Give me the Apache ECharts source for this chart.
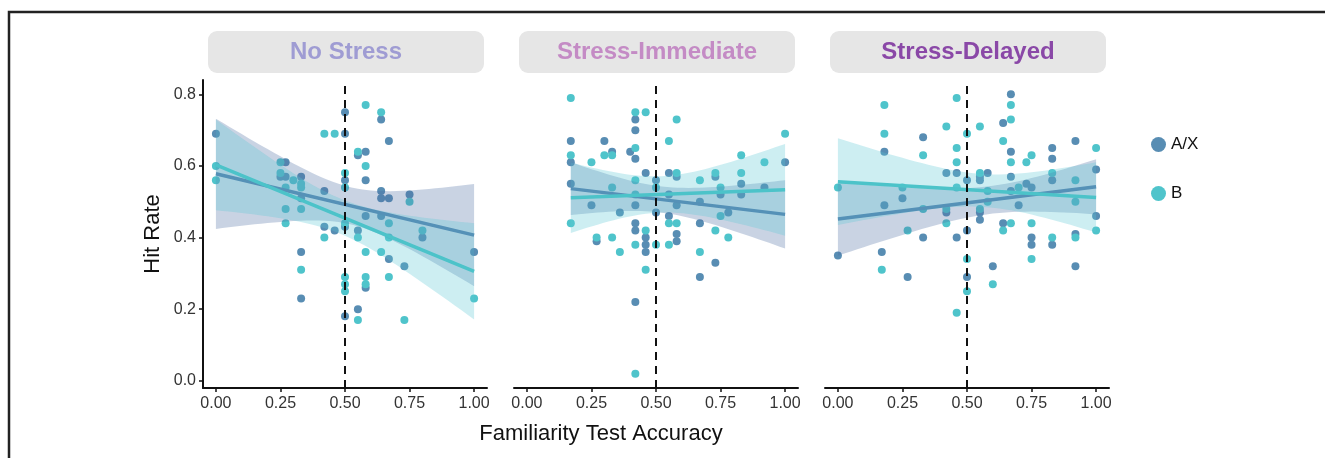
<!DOCTYPE html>
<html>
<head>
<meta charset="utf-8">
<script src="https://cdn.jsdelivr.net/npm/echarts@6/dist/echarts.min.js"></script>
<style>
  html, body { margin: 0; padding: 0; background: #fff; }
  #main { width: 1325px; height: 458px; }
</style>
</head>
<body>
<div id="main"></div>
<script>
// panel titles, ticks
var panelTitles = ['No Stress', 'Stress-Immediate', 'Stress-Delayed'];
var xTicks = [0, 0.25, 0.5, 0.75, 1];
var yTicks = [0, 0.2, 0.4, 0.6, 0.8];
var cutoff = 0.5;

// [familiarity accuracy, hit rate] per group
var noStressAX = [[0,0.69],[0.27,0.61],[0.25,0.57],[0.27,0.57],[0.33,0.57],[0.33,0.51],[0.33,0.36],[0.33,0.23],
  [0.5,0.75],[0.5,0.69],[0.5,0.56],[0.42,0.53],[0.5,0.43],[0.42,0.43],[0.46,0.42],[0.5,0.18],[0.55,0.63],
  [0.58,0.64],[0.58,0.56],[0.55,0.42],[0.58,0.46],[0.58,0.26],[0.55,0.2],[0.64,0.73],[0.67,0.67],[0.64,0.53],
  [0.64,0.51],[0.67,0.51],[0.64,0.46],[0.67,0.34],[0.73,0.32],[0.75,0.52],[0.8,0.4],[1,0.36]];
var noStressB = [[0,0.6],[0,0.56],[0.25,0.61],[0.25,0.58],[0.3,0.56],[0.33,0.55],[0.33,0.54],[0.27,0.54],
  [0.33,0.48],[0.27,0.48],[0.27,0.44],[0.33,0.31],[0.42,0.69],[0.46,0.69],[0.5,0.58],[0.5,0.54],[0.5,0.44],
  [0.42,0.4],[0.5,0.29],[0.5,0.27],[0.5,0.25],[0.55,0.64],[0.58,0.6],[0.58,0.77],[0.55,0.4],[0.58,0.36],
  [0.58,0.29],[0.58,0.27],[0.55,0.17],[0.64,0.75],[0.67,0.44],[0.67,0.4],[0.64,0.36],[0.67,0.29],[0.73,0.17],
  [0.75,0.5],[0.8,0.42],[1,0.23]];

var immediateAX = [[0.17,0.67],[0.17,0.61],[0.17,0.55],[0.25,0.49],[0.3,0.67],[0.33,0.64],[0.27,0.39],[0.36,0.47],
  [0.4,0.64],[0.42,0.73],[0.42,0.7],[0.42,0.62],[0.46,0.58],[0.42,0.49],[0.42,0.44],[0.42,0.42],[0.46,0.4],
  [0.46,0.38],[0.46,0.36],[0.42,0.22],[0.5,0.56],[0.5,0.47],[0.55,0.58],[0.55,0.52],[0.55,0.46],[0.58,0.57],
  [0.58,0.49],[0.58,0.41],[0.58,0.39],[0.67,0.5],[0.67,0.44],[0.67,0.29],[0.73,0.57],[0.73,0.33],[0.75,0.52],
  [0.78,0.47],[0.83,0.55],[0.83,0.52],[0.92,0.54],[1,0.61]];
var immediateB = [[0.17,0.79],[0.17,0.63],[0.17,0.44],[0.25,0.61],[0.3,0.63],[0.33,0.63],[0.33,0.54],[0.33,0.4],
  [0.27,0.4],[0.36,0.36],[0.42,0.75],[0.42,0.65],[0.46,0.75],[0.42,0.56],[0.42,0.52],[0.46,0.42],[0.42,0.38],
  [0.46,0.31],[0.42,0.02],[0.5,0.54],[0.5,0.38],[0.55,0.67],[0.55,0.44],[0.55,0.38],[0.58,0.73],[0.58,0.58],
  [0.58,0.44],[0.67,0.56],[0.67,0.36],[0.73,0.58],[0.73,0.42],[0.75,0.54],[0.75,0.46],[0.78,0.4],[0.83,0.63],
  [0.83,0.58],[0.92,0.61],[1,0.69]];

var delayedAX = [[0,0.35],[0.18,0.64],[0.18,0.49],[0.17,0.36],[0.25,0.51],[0.27,0.29],[0.33,0.68],[0.33,0.4],
  [0.42,0.58],[0.42,0.47],[0.46,0.58],[0.46,0.4],[0.5,0.56],[0.5,0.42],[0.5,0.29],[0.55,0.57],[0.55,0.56],
  [0.55,0.47],[0.55,0.45],[0.58,0.58],[0.6,0.32],[0.64,0.72],[0.64,0.44],[0.67,0.8],[0.67,0.64],[0.67,0.57],
  [0.67,0.53],[0.7,0.49],[0.73,0.55],[0.75,0.54],[0.75,0.4],[0.75,0.38],[0.83,0.65],[0.83,0.62],[0.83,0.56],
  [0.83,0.38],[0.92,0.67],[0.92,0.41],[0.92,0.32],[1,0.59],[1,0.46]];
var delayedB = [[0,0.54],[0.18,0.77],[0.18,0.69],[0.17,0.31],[0.25,0.54],[0.27,0.42],[0.33,0.63],[0.33,0.48],
  [0.42,0.71],[0.42,0.48],[0.42,0.44],[0.46,0.79],[0.46,0.65],[0.46,0.61],[0.46,0.54],[0.46,0.19],[0.5,0.69],
  [0.5,0.34],[0.5,0.25],[0.55,0.71],[0.55,0.58],[0.55,0.48],[0.58,0.53],[0.58,0.5],[0.6,0.27],[0.64,0.67],
  [0.64,0.42],[0.67,0.77],[0.67,0.73],[0.67,0.61],[0.67,0.44],[0.7,0.54],[0.73,0.61],[0.75,0.63],[0.75,0.44],
  [0.75,0.34],[0.83,0.58],[0.83,0.4],[0.92,0.56],[0.92,0.5],[0.92,0.4],[1,0.65],[1,0.42]];

var groups = [[noStressAX, noStressB], [immediateAX, immediateB], [delayedAX, delayedB]];

var titleColors = ['#9f9cd3', '#c48bc5', '#8a48a7'];
var pointColors = ['#588db3', '#4fc4cb'];
var lineColors = ['#5591b7', '#4cc3c9'];
var bandColors = ['rgba(75,108,162,0.3)', 'rgba(88,198,212,0.3)'];
var gridLefts = [203, 514, 825];
var gridW = 284, gridTop = 80, gridH = 308;
var font = 'Liberation Sans, Arial, sans-serif';

// linear fit with 95% confidence band (like geom_smooth(method = "lm"))
function fitLm(pts) {
  var n = pts.length, sx = 0, sy = 0;
  pts.forEach(function (p) { sx += p[0]; sy += p[1]; });
  var xm = sx / n, ym = sy / n, sxx = 0, sxy = 0;
  pts.forEach(function (p) { sxx += (p[0] - xm) * (p[0] - xm); sxy += (p[0] - xm) * (p[1] - ym); });
  var b = sxy / sxx, a = ym - b * xm, sse = 0;
  pts.forEach(function (p) { var r = p[1] - a - b * p[0]; sse += r * r; });
  var s = Math.sqrt(sse / (n - 2)), t = 1.96 + 2.4 / (n - 2);
  var xs = pts.map(function (p) { return p[0]; });
  var lo = Math.min.apply(null, xs), hi = Math.max.apply(null, xs);
  var upper = [], lower = [];
  for (var k = 0; k <= 40; k++) {
    var x = lo + (hi - lo) * k / 40;
    var h = t * s * Math.sqrt(1 / n + (x - xm) * (x - xm) / sxx);
    upper.push([x, a + b * x + h]);
    lower.push([x, a + b * x - h]);
  }
  return { line: [[lo, a + b * lo], [hi, a + b * hi]], band: upper.concat(lower.reverse()) };
}

var chart = echarts.init(document.getElementById('main'));

var grids = [], xAxes = [], yAxes = [], series = [], graphics = [];

graphics.push({
  type: 'polyline', silent: true,
  shape: { points: [[9, 458], [9, 12], [1325, 12]] },
  style: { stroke: '#222', lineWidth: 2.5, fill: null }
});

panelTitles.forEach(function (title, i) {
  grids.push({ left: gridLefts[i], top: gridTop, width: gridW, height: gridH });
  xAxes.push({
    gridIndex: i, type: 'value', min: -0.05, max: 1.05,
    axisLine: { onZero: false, lineStyle: { color: '#111', width: 2 } },
    axisTick: { customValues: xTicks, length: 4, lineStyle: { color: '#111', width: 1.5 } },
    axisLabel: { customValues: xTicks, formatter: function (v) { return v.toFixed(2); },
      fontSize: 16, color: '#333', margin: 8, fontFamily: font },
    splitLine: { show: false }
  });
  yAxes.push({
    gridIndex: i, type: 'value', min: -0.02, max: 0.84,
    name: i === 0 ? 'Hit Rate' : '', nameLocation: 'middle', nameGap: 39,
    nameTextStyle: { fontSize: 22, color: '#111', fontFamily: font },
    axisLine: { show: i === 0, onZero: false, lineStyle: { color: '#111', width: 2 } },
    axisTick: { show: i === 0, customValues: yTicks, length: 4, lineStyle: { color: '#111', width: 1.5 } },
    axisLabel: { show: i === 0, customValues: yTicks, formatter: function (v) { return v.toFixed(1); },
      fontSize: 16, color: '#333', margin: 7, fontFamily: font },
    splitLine: { show: false }
  });

  // strip header
  graphics.push({
    type: 'rect', silent: true,
    shape: { x: gridLefts[i] + 5, y: 31, width: gridW - 8, height: 42, r: 9 },
    style: { fill: '#e6e6e6' }
  });
  graphics.push({
    type: 'text', silent: true,
    x: gridLefts[i] + 5 + (gridW - 8) / 2, y: 52,
    style: { text: title, fill: titleColors[i], font: 'bold 24px ' + font, textAlign: 'center', textVerticalAlign: 'middle' }
  });

  var names = ['A/X', 'B'];
  groups[i].forEach(function (pts, g) {
    var scatter = {
      name: names[g], type: 'scatter', xAxisIndex: i, yAxisIndex: i,
      data: pts, symbolSize: 8, z: 2, silent: true,
      itemStyle: { color: pointColors[g], opacity: 1 }
    };
    if (g === 0) {
      scatter.markLine = {
        silent: true, symbol: ['none', 'none'], label: { show: false },
        lineStyle: { type: [8, 6], color: '#111', width: 2 },
        data: [{ xAxis: cutoff }]
      };
    }
    series.push(scatter);
  });
  groups[i].forEach(function (pts, g) {
    var fit = fitLm(pts);
    series.push({
      type: 'custom', xAxisIndex: i, yAxisIndex: i, silent: true, z: 3,
      data: fit.band,
      renderItem: function (params, api) {
        if (params.dataIndex !== 0) return null;
        return {
          type: 'polygon',
          shape: { points: fit.band.map(function (p) { return api.coord(p); }) },
          style: { fill: bandColors[g] }
        };
      }
    });
    series.push({
      type: 'line', xAxisIndex: i, yAxisIndex: i, silent: true, z: 4,
      data: fit.line, symbol: 'none',
      lineStyle: { color: lineColors[g], width: 3.5 }
    });
  });
});

graphics.push({
  type: 'text', silent: true, x: 601, y: 434,
  style: { text: 'Familiarity Test Accuracy', fill: '#111', font: '22px ' + font, textAlign: 'center', textVerticalAlign: 'middle' }
});

chart.setOption({
  animation: false,
  grid: grids,
  xAxis: xAxes,
  yAxis: yAxes,
  legend: {
    data: ['A/X', 'B'], orient: 'vertical', left: 1146, top: 131,
    icon: 'circle', itemWidth: 15, itemHeight: 15, itemGap: 32, itemStyle: { borderWidth: 0 },
    textStyle: { fontSize: 17, color: '#111', fontFamily: font }
  },
  graphic: graphics,
  series: series
});
</script>
</body>
</html>
